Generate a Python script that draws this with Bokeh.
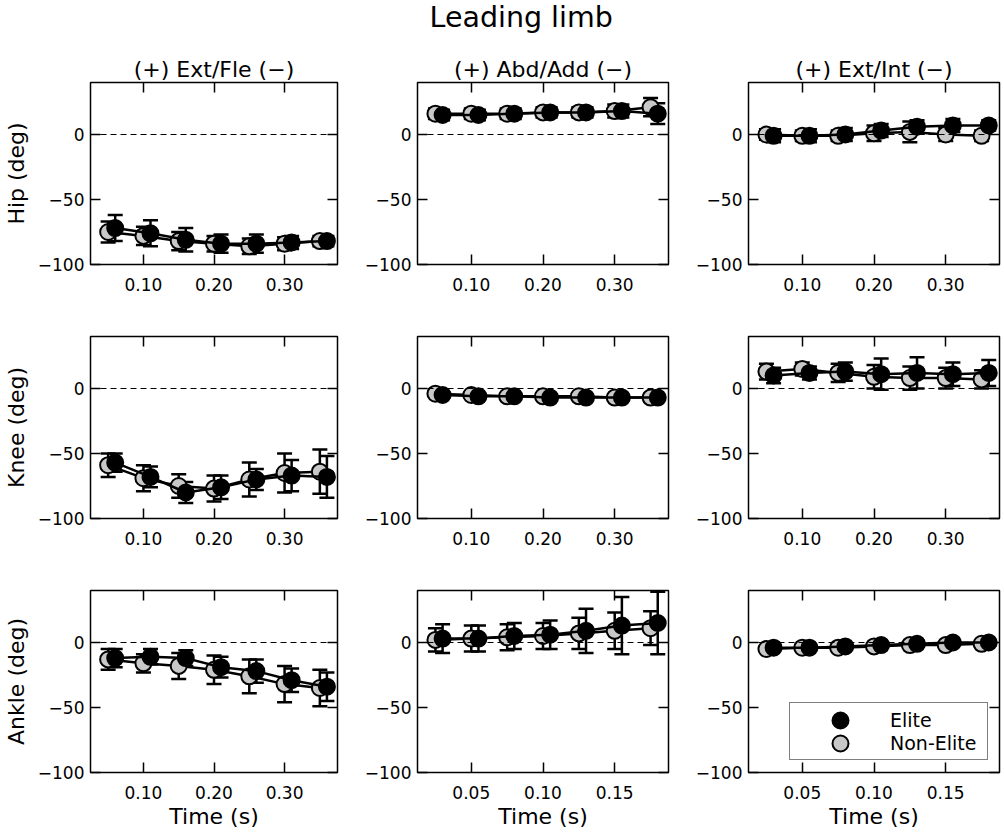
from bokeh.plotting import figure
from bokeh.models import (ColumnDataSource, Whisker, Span, LinearAxis, FixedTicker,
                          CustomJSTickFormatter, Range1d, Title, Legend, LegendItem, TeeHead)
from bokeh.layouts import column, row
from bokeh.embed import file_html
from bokeh.resources import INLINE

FONT = "DejaVu Sans"

# ---------------- data ----------------
time_long = [0.05, 0.10, 0.15, 0.20, 0.25, 0.30, 0.35]
time_short = [0.025, 0.05, 0.075, 0.10, 0.125, 0.15, 0.175]
ticks_long = [0.10, 0.20, 0.30]
ticks_short = [0.05, 0.10, 0.15]
y_ticks = [-100, -50, 0]

suptitle = "Leading limb"
col_titles = ["(+) Ext/Fle (\u2212)", "(+) Abd/Add (\u2212)", "(+) Ext/Int (\u2212)"]
row_labels = ["Hip (deg)", "Knee (deg)", "Ankle (deg)"]
x_label = "Time (s)"
group_labels = ["Elite", "Non-Elite"]

hip_ef_elite = [-72, -76, -81, -84, -84, -83, -82]
hip_ef_elite_sd = [10, 10, 9, 7, 7, 5, 4]
hip_ef_non = [-75, -78, -82, -84, -86, -84, -82]
hip_ef_non_sd = [8, 7, 7, 6, 6, 5, 4]

hip_aa_elite = [15, 15, 16, 17, 17, 18, 16]
hip_aa_elite_sd = [4, 4, 4, 4, 4, 5, 8]
hip_aa_non = [16, 16, 16, 17, 17, 18, 21]
hip_aa_non_sd = [4, 4, 4, 4, 4, 5, 7]

hip_ei_elite = [-1, -1, 0, 3, 6, 7, 7]
hip_ei_elite_sd = [5, 5, 5, 5, 5, 5, 4]
hip_ei_non = [0, -1, -1, 1, 2, 0, -1]
hip_ei_non_sd = [4, 4, 4, 6, 8, 5, 4]

knee_ef_elite = [-57, -68, -80, -76, -70, -67, -68]
knee_ef_elite_sd = [7, 8, 8, 9, 8, 12, 16]
knee_ef_non = [-59, -69, -75, -77, -70, -65, -64]
knee_ef_non_sd = [9, 10, 9, 10, 13, 15, 17]

knee_aa_elite = [-5, -6, -6, -7, -7, -7, -7]
knee_aa_elite_sd = [2, 2, 2, 2, 2, 2, 2]
knee_aa_non = [-4, -5, -6, -6, -6, -7, -7]
knee_aa_non_sd = [2, 2, 2, 2, 2, 2, 3]

knee_ei_elite = [10, 12, 13, 11, 12, 11, 12]
knee_ei_elite_sd = [6, 5, 7, 12, 12, 9, 10]
knee_ei_non = [13, 15, 12, 9, 8, 8, 7]
knee_ei_non_sd = [6, 5, 7, 9, 9, 8, 7]

ankle_ef_elite = [-12, -11, -12, -19, -22, -29, -34]
ankle_ef_elite_sd = [7, 6, 6, 8, 9, 9, 11]
ankle_ef_non = [-13, -16, -18, -21, -26, -32, -35]
ankle_ef_non_sd = [8, 7, 10, 11, 13, 14, 14]

ankle_aa_elite = [3, 3, 5, 6, 9, 13, 15]
ankle_aa_elite_sd = [11, 10, 10, 11, 17, 22, 24]
ankle_aa_non = [2, 3, 4, 5, 7, 9, 11]
ankle_aa_non_sd = [9, 10, 10, 10, 12, 14, 13]

ankle_ei_elite = [-4, -4, -3, -2, -1, 0, 0]
ankle_ei_elite_sd = [2, 2, 2, 2, 2, 2, 2]
ankle_ei_non = [-5, -4, -4, -3, -2, -2, -1]
ankle_ei_non_sd = [2, 2, 2, 2, 2, 2, 2]

panels = [
    [(hip_ef_elite, hip_ef_elite_sd, hip_ef_non, hip_ef_non_sd, "long"),
     (hip_aa_elite, hip_aa_elite_sd, hip_aa_non, hip_aa_non_sd, "long"),
     (hip_ei_elite, hip_ei_elite_sd, hip_ei_non, hip_ei_non_sd, "long")],
    [(knee_ef_elite, knee_ef_elite_sd, knee_ef_non, knee_ef_non_sd, "long"),
     (knee_aa_elite, knee_aa_elite_sd, knee_aa_non, knee_aa_non_sd, "long"),
     (knee_ei_elite, knee_ei_elite_sd, knee_ei_non, knee_ei_non_sd, "long")],
    [(ankle_ef_elite, ankle_ef_elite_sd, ankle_ef_non, ankle_ef_non_sd, "long"),
     (ankle_aa_elite, ankle_aa_elite_sd, ankle_aa_non, ankle_aa_non_sd, "short"),
     (ankle_ei_elite, ankle_ei_elite_sd, ankle_ei_non, ankle_ei_non_sd, "short")],
]

# ---------------- styling ----------------
FRAME_W = 251
FRAME_H = 182
TICK_FS = "17px"
LABEL_FS = "22px"
GREY = "#c8c8c8"

x_fmt = CustomJSTickFormatter(code="return tick.toFixed(2);")
y_fmt = CustomJSTickFormatter(code="return tick < 0 ? '\\u2212' + Math.abs(tick) : String(tick);")


def blank_axis(ticker):
    return LinearAxis(ticker=ticker,
                      formatter=CustomJSTickFormatter(code="return '';"),
                      major_tick_in=10, major_tick_out=0, minor_tick_line_color=None,
                      axis_line_color=None, major_tick_line_color="black",
                      major_tick_line_width=1.5, major_label_text_font_size="0px",
                      major_label_standoff=0)


def style_axis(ax, ticker, fmt):
    ax.ticker = ticker
    ax.formatter = fmt
    ax.major_tick_in = 10
    ax.major_tick_out = 0
    ax.minor_tick_line_color = None
    ax.axis_line_color = None
    ax.major_tick_line_color = "black"
    ax.major_tick_line_width = 1.5
    ax.major_label_text_font = FONT
    ax.major_label_text_font_size = TICK_FS
    ax.major_label_text_color = "black"
    ax.axis_label_text_font = FONT
    ax.axis_label_text_font_size = LABEL_FS
    ax.axis_label_text_font_style = "normal"
    ax.axis_label_text_color = "black"


left_borders = [86, 78, 78]
fig_widths = [lb + FRAME_W + 2 for lb in left_borders]

# suptitle strip
head = figure(width=sum(fig_widths), height=51, x_range=Range1d(0, 1), y_range=Range1d(0, 1),
              x_axis_location=None, y_axis_location=None, output_backend="svg",
              toolbar_location=None, min_border_left=0, min_border_right=0,
              min_border_top=0, min_border_bottom=0, outline_line_color=None)
head.grid.visible = False
head.title = Title(text=suptitle, align="left", offset=429, vertical_align="top",
                   standoff=0, text_font=FONT, text_font_size="28.5px",
                   text_font_style="normal", text_color="black")

rows = [head]
for r in range(3):
    row_figs = []
    for c in range(3):
        el, el_sd, ne, ne_sd, kind = panels[r][c]
        if kind == "long":
            times, xticks, xr, off = time_long, ticks_long, (0.025, 0.375), 0.01
        else:
            times, xticks, xr, off = time_short, ticks_short, (0.0125, 0.1875), 0.005
        top = 31 if r == 0 else 36
        bottom = 61 if r == 2 else 36
        p = figure(width=fig_widths[c], height=top + FRAME_H + bottom,
                   x_range=Range1d(*xr), y_range=Range1d(-100, 40),
                   output_backend="svg", toolbar_location=None,
                   min_border_left=left_borders[c], min_border_right=2,
                   min_border_top=top, min_border_bottom=bottom,
                   background_fill_color="white", border_fill_color="white")
        p.grid.visible = False
        p.outline_line_color = "black"
        p.outline_line_width = 1.5
        p.outline_line_alpha = 1

        style_axis(p.xaxis[0], FixedTicker(ticks=xticks), x_fmt)
        style_axis(p.yaxis[0], FixedTicker(ticks=y_ticks), y_fmt)
        p.xaxis[0].major_label_standoff = 13
        p.yaxis[0].major_label_standoff = 6
        if r == 2:
            p.xaxis[0].axis_label = x_label
            p.xaxis[0].axis_label_standoff = 2
        if c == 0:
            p.yaxis[0].axis_label = row_labels[r]
            p.yaxis[0].axis_label_standoff = 6

        p.add_layout(blank_axis(FixedTicker(ticks=xticks)), "above")
        p.add_layout(blank_axis(FixedTicker(ticks=y_ticks)), "right")

        if r == 0:
            p.add_layout(Title(text=col_titles[c], align="center",
                               text_font=FONT, text_font_size=LABEL_FS,
                               text_font_style="normal", text_color="black",
                               standoff=2), "above")

        p.add_layout(Span(location=0, dimension="width", line_color="black",
                          line_width=1, line_dash="6 4"))

        x_ne = list(times)
        x_el = [t + off for t in times]
        src_ne = ColumnDataSource(dict(x=x_ne, y=ne,
                                       lo=[m - s for m, s in zip(ne, ne_sd)],
                                       hi=[m + s for m, s in zip(ne, ne_sd)]))
        src_el = ColumnDataSource(dict(x=x_el, y=el,
                                       lo=[m - s for m, s in zip(el, el_sd)],
                                       hi=[m + s for m, s in zip(el, el_sd)]))

        rend = {}
        for key, src, fill in (("ne", src_ne, GREY), ("el", src_el, "black")):
            wh = Whisker(source=src, base="x", lower="lo", upper="hi",
                         dimension="height", line_color="black", line_width=2.5,
                         upper_head=TeeHead(size=15, line_color="black", line_width=2.5),
                         lower_head=TeeHead(size=15, line_color="black", line_width=2.5))
            p.add_layout(wh)
            p.line("x", "y", source=src, line_color="black", line_width=2.5)
            rend[key] = p.scatter("x", "y", source=src, size=16, marker="circle",
                                  fill_color=fill, line_color="black", line_width=2)

        if r == 2 and c == 2:
            # box with the labels
            box = Legend(items=[LegendItem(label=group_labels[0], renderers=[rend["el"]]),
                                LegendItem(label=group_labels[1], renderers=[rend["ne"]])],
                         location=(41, 12), orientation="vertical",
                         padding=5, spacing=0, margin=0,
                         glyph_width=92, glyph_height=23, label_standoff=3,
                         label_width=92, label_height=23,
                         label_text_font=FONT, label_text_font_size="19px",
                         label_text_color="black",
                         border_line_color="black", border_line_width=1,
                         background_fill_color="white", background_fill_alpha=1)
            p.add_layout(box)
            # full-size legend markers drawn over the box's glyph slots
            for key, loc in (("el", (72, 32)), ("ne", (72, 9))):
                mk = Legend(items=[LegendItem(label=" ", renderers=[rend[key]])],
                            location=loc, padding=0, spacing=0, margin=0,
                            glyph_width=40, glyph_height=40, label_standoff=0,
                            label_width=0, label_height=0,
                            label_text_font_size="1px",
                            border_line_color=None, background_fill_color=None,
                            background_fill_alpha=0)
                p.add_layout(mk)
        row_figs.append(p)
    rows.append(row(*row_figs))

layout = column(*rows)
open("out.html", "w").write(file_html(layout, INLINE))
